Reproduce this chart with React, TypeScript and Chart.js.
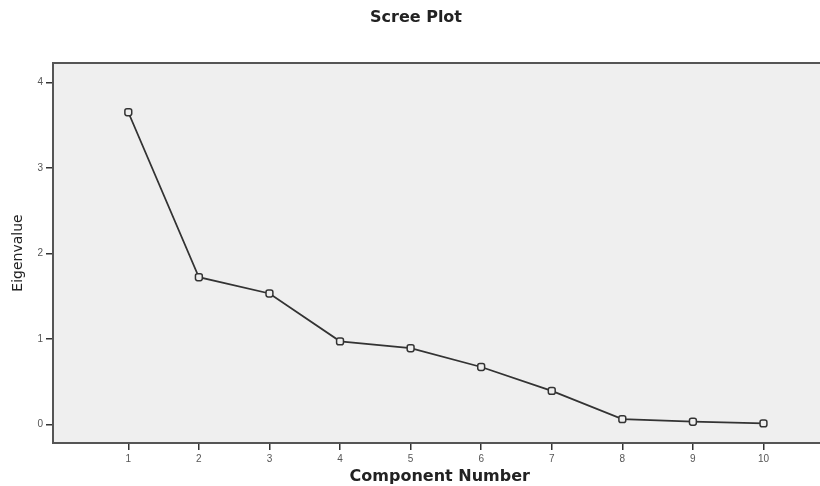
import React, { useEffect, useRef } from "react";
import { Chart, registerables } from "chart.js";

Chart.register(...registerables);

const components = [1, 2, 3, 4, 5, 6, 7, 8, 9, 10];
const eigenvalues = [3.65, 1.72, 1.53, 0.97, 0.89, 0.67, 0.39, 0.06, 0.03, 0.01];
const yTickValues = [0, 1, 2, 3, 4];
const chartTitle = "Scree Plot";
const xTitle = "Component Number";
const yTitle = "Eigenvalue";

const plotBg = {
  id: "plotBg",
  beforeDraw(chart: any) {
    const { ctx, chartArea } = chart;
    if (!chartArea) return;
    ctx.save();
    ctx.fillStyle = "#efefef";
    ctx.fillRect(chartArea.left, chartArea.top, chart.width - chartArea.left, chartArea.bottom - chartArea.top);
    ctx.restore();
  },
  afterDraw(chart: any) {
    const { ctx, chartArea } = chart;
    if (!chartArea) return;
    ctx.save();
    ctx.strokeStyle = "#555";
    ctx.lineWidth = 2;
    ctx.beginPath();
    ctx.moveTo(chartArea.left - 1, chartArea.top);
    ctx.lineTo(chart.width, chartArea.top);
    ctx.moveTo(chartArea.right, chartArea.bottom);
    ctx.lineTo(chart.width, chartArea.bottom);
    ctx.stroke();
    ctx.restore();
  },
};

export default function App() {
  const ref = useRef<HTMLCanvasElement | null>(null);

  useEffect(() => {
    if (!ref.current) return;
    const tickFont = { family: "'Liberation Sans', Arial, sans-serif", size: 10 };
    const chart = new Chart(ref.current, {
      type: "line",
      data: {
        datasets: [
          {
            data: components.map((x, i) => ({ x, y: eigenvalues[i] })),
            borderColor: "#333",
            borderWidth: 1.8,
            pointStyle: "rectRounded",
            pointRadius: 4,
            pointBorderWidth: 1.5,
            pointBorderColor: "#333",
            pointBackgroundColor: "#eeeeee",
            tension: 0,
          },
        ],
      },
      options: {
        responsive: false,
        animation: false,
        layout: { padding: 0 },
        plugins: {
          legend: { display: false },
          tooltip: { enabled: false },
          title: {
            display: true,
            text: chartTitle,
            color: "#222",
            font: { family: "'DejaVu Sans', sans-serif", size: 16, weight: "bold" },
            padding: { top: 8, bottom: 35.8 },
          },
        },
        scales: {
          x: {
            type: "linear",
            min: -0.067,
            max: 10.893,
            afterBuildTicks: (s: any) => {
              s.ticks = components.map((v) => ({ value: v }));
            },
            afterFit: (s: any) => {
              s.height = 43;
            },
            grid: { drawOnChartArea: false, drawTicks: true, tickLength: 7, color: "#333", lineWidth: 1.5 },
            border: { display: true, color: "#555", width: 2 },
            ticks: { font: tickFont, color: "#555", padding: 3, autoSkip: false, maxRotation: 0 },
            title: {
              display: true,
              text: xTitle,
              color: "#222",
              font: { family: "'DejaVu Sans', sans-serif", size: 16, weight: "bold" },
              padding: { top: 0, bottom: 0 },
            },
          },
          y: {
            type: "linear",
            min: -0.219,
            max: 4.226,
            afterBuildTicks: (s: any) => {
              s.ticks = yTickValues.map((v) => ({ value: v }));
            },
            afterFit: (s: any) => {
              s.width = 53;
            },
            grid: { drawOnChartArea: false, drawTicks: true, tickLength: 7, color: "#333", lineWidth: 1.5 },
            border: { display: true, color: "#555", width: 2 },
            ticks: { font: tickFont, color: "#555", padding: 3 },
            title: {
              display: true,
              text: yTitle,
              color: "#222",
              font: { family: "'DejaVu Sans', sans-serif", size: 14 },
              padding: { top: 10, bottom: 0 },
            },
          },
        },
      },
      plugins: [plotBg],
    } as any);
    return () => chart.destroy();
  }, []);

  return (
    <div style={{ position: "absolute", left: 0, top: 0, width: 820, height: 486, overflow: "hidden", background: "#fff" }}>
      <canvas ref={ref} width={832} height={486} style={{ display: "block" }} />
    </div>
  );
}
